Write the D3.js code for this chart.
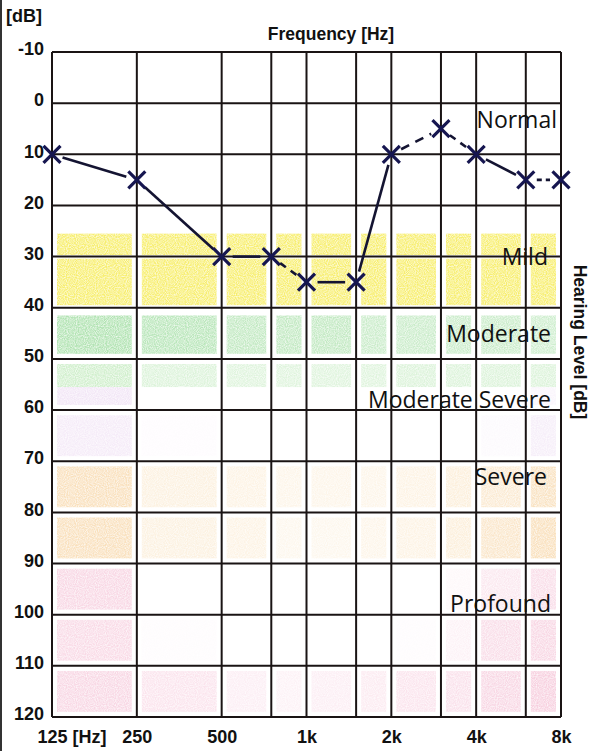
<!DOCTYPE html>
<html>
<head>
<meta charset="utf-8">
<script src="https://cdn.jsdelivr.net/npm/d3@7"></script>
<style>
  body { margin: 0; background: #fff; }
  svg { display: block; }
</style>
</head>
<body>
<svg id="chart"></svg>
<script>
// frequencies (Hz) of the vertical grid lines, and the ones that get a label
var freqs = [125, 250, 500, 750, 1000, 1500, 2000, 3000, 4000, 6000, 8000];
var freqLabels = [125, 250, 500, 1000, 2000, 4000, 8000];
var freqText = ["125 [Hz]", "250", "500", "1k", "2k", "4k", "8k"];
var dbTicks = [-10, 0, 10, 20, 30, 40, 50, 60, 70, 80, 90, 100, 110, 120];

// measured thresholds (right ear, X)
var thresholds = [10, 15, 30, 30, 35, 35, 10, 5, 10, 15, 15];
var segDash = ["", "", "", "7,6", "", "", "9,7", "7,6", "", "5,4"];

// shaded bands: top dB, bottom dB, colour group, strength per column
var bandTop = [25.5, 30.4, 41.5, 51, 55.5, 61, 71, 81, 91, 101, 111];
var bandBottom = [29.7, 39.5, 49, 55.5, 59, 69, 79, 89, 99, 109, 119];
var bandGroup = ["mild", "mild", "mod", "mod2", "pur", "pur", "sev", "sev", "pro", "pro", "pro"];
var bandAlpha = [
  [1, 1, 1, 1, 1, 1, 1, 1, 1, 1],
  [1, 1, 1, 1, 1, 1, 1, 1, 1, 1],
  [0.95, 0.85, 0.75, 0.75, 0.75, 0.65, 0.65, 0.65, 0.65, 0.6],
  [0.75, 0.55, 0.5, 0.5, 0.5, 0.5, 0.55, 0.55, 0.55, 0.55],
  [0.5, 0, 0, 0, 0, 0, 0, 0, 0, 0.2],
  [0.4, 0.05, 0, 0, 0, 0, 0, 0, 0.1, 0.35],
  [0.75, 0.35, 0.3, 0.25, 0.25, 0.25, 0.3, 0.4, 0.5, 0.7],
  [0.75, 0.35, 0.3, 0.2, 0.2, 0.25, 0.3, 0.4, 0.6, 0.75],
  [0.6, 0, 0, 0, 0, 0, 0, 0.1, 0.35, 0.5],
  [0.55, 0.05, 0, 0, 0, 0, 0.05, 0.2, 0.5, 0.6],
  [0.6, 0.4, 0.25, 0.2, 0.25, 0.3, 0.4, 0.45, 0.6, 0.7]
];

var zoneNames = ["Normal", "Mild", "Moderate", "Moderate Severe", "Severe", "Profound"];
var zoneDb = [4.9, 31.6, 46.7, 59.6, 74.6, 99.5];
var zoneRight = [557, 548, 551, 551, 547, 551];

var groupColor = { mild: "#f7ee6e", mod: "#ade2ae", mod2: "#c0eabb", pur: "#e6cdee", sev: "#f7d6a6", pro: "#f4bcd2" };

var W = 591, H = 751;
var margin = { top: 52, right: 30, bottom: 34, left: 52 };
var width = W - margin.left - margin.right,
    height = H - margin.top - margin.bottom;

var x = d3.scaleLog().base(2).domain([125, 8000]).range([0, width]);
var y = d3.scaleLinear().domain([-10, 120]).range([0, height]);

var svg = d3.select("#chart").attr("width", W).attr("height", H);

// scan edge on the left
svg.append("rect").attr("x", 0).attr("y", 0).attr("width", 2).attr("height", H).attr("fill", "#333");

var g = svg.append("g").attr("transform", "translate(" + margin.left + "," + margin.top + ")");

// speckle filter so the bands look printed
var defs = svg.append("defs");
var f = defs.append("filter").attr("id", "speck");
f.append("feTurbulence").attr("type", "fractalNoise").attr("baseFrequency", 0.9).attr("numOctaves", 1).attr("result", "n");
f.append("feColorMatrix").attr("in", "n").attr("type", "matrix")
  .attr("values", "0 0 0 0 0  0 0 0 0 0  0 0 0 0 0  0 0 0 -1.6 1.5").attr("result", "m");
f.append("feComposite").attr("in", "SourceGraphic").attr("in2", "m").attr("operator", "in");

var cells = [];
bandTop.forEach(function (t, r) {
  for (var c = 0; c < freqs.length - 1; c++) {
    if (bandAlpha[r][c] > 0) cells.push({ r: r, c: c });
  }
});
g.append("g").attr("filter", "url(#speck)").selectAll("rect").data(cells).enter().append("rect")
  .attr("x", function (d) { return x(freqs[d.c]) + 5; })
  .attr("width", function (d) { return x(freqs[d.c + 1]) - x(freqs[d.c]) - 10; })
  .attr("y", function (d) { return y(bandTop[d.r]); })
  .attr("height", function (d) { return y(bandBottom[d.r]) - y(bandTop[d.r]); })
  .attr("fill", function (d) { return groupColor[bandGroup[d.r]]; })
  .attr("fill-opacity", function (d) { return bandAlpha[d.r][d.c]; });

// grid
g.append("g").selectAll("line").data(dbTicks).enter().append("line")
  .attr("x1", 0).attr("x2", width)
  .attr("y1", function (d) { return y(d); }).attr("y2", function (d) { return y(d); })
  .attr("stroke", "#1a1414").attr("stroke-width", 2);
g.append("g").selectAll("line").data(freqs).enter().append("line")
  .attr("x1", function (d) { return x(d); }).attr("x2", function (d) { return x(d); })
  .attr("y1", 0).attr("y2", height)
  .attr("stroke", "#1a1414").attr("stroke-width", 2);

// zone names
g.append("g").selectAll("text").data(zoneNames).enter().append("text")
  .attr("x", function (d, i) { return zoneRight[i] - margin.left; })
  .attr("y", function (d, i) { return y(zoneDb[i]); })
  .attr("text-anchor", "end")
  .style("font-family", "'Open Sans', sans-serif")
  .style("font-size", "23px")
  .attr("fill", "#111")
  .text(function (d) { return d; });

// y axis labels
var yAxis = g.append("g").call(d3.axisLeft(y).tickValues(dbTicks).tickSize(0).tickPadding(8)
  .tickFormat(function (d) { return String(d); }));
yAxis.select(".domain").remove();
yAxis.selectAll("text")
  .attr("dy", "0.15em")
  .style("font-family", "'Liberation Sans', Arial, sans-serif")
  .style("font-weight", "bold")
  .style("font-size", "18px")
  .attr("fill", "#111");

// x axis labels
var xAxis = g.append("g").attr("transform", "translate(0," + height + ")")
  .call(d3.axisBottom(x).tickValues(freqLabels).tickSize(0).tickPadding(13)
    .tickFormat(function (d, i) { return freqText[i]; }));
xAxis.select(".domain").remove();
xAxis.selectAll("text")
  .style("font-family", "'Liberation Sans', Arial, sans-serif")
  .style("font-weight", "bold")
  .style("font-size", "18px")
  .attr("fill", "#111");
xAxis.selectAll(".tick").filter(function (d) { return d === 125; }).select("text")
  .attr("text-anchor", "start").attr("x", -15);

// titles
svg.append("text").attr("x", 6).attr("y", 22).text("[dB]")
  .style("font-family", "'Liberation Sans', Arial, sans-serif")
  .style("font-weight", "bold").style("font-size", "18px").attr("fill", "#111");
svg.append("text").attr("x", 331).attr("y", 40).attr("text-anchor", "middle").text("Frequency [Hz]")
  .style("font-family", "'Liberation Sans', Arial, sans-serif")
  .style("font-weight", "bold").style("font-size", "17.5px").attr("fill", "#111");
svg.append("text").attr("transform", "translate(574," + 342 + ") rotate(90)")
  .attr("text-anchor", "middle").text("Hearing Level [dB]")
  .style("font-family", "'Liberation Sans', Arial, sans-serif")
  .style("font-weight", "bold").style("font-size", "17.5px").attr("fill", "#111");

// threshold line, broken near each marker
var pts = freqs.map(function (f, i) { return [x(f), y(thresholds[i])]; });
var segs = [];
for (var i = 0; i < pts.length - 1; i++) {
  var a = pts[i], b = pts[i + 1];
  var dx = b[0] - a[0], dy = b[1] - a[1], len = Math.sqrt(dx * dx + dy * dy);
  var gap = 11;
  segs.push({
    x1: a[0] + dx / len * gap, y1: a[1] + dy / len * gap,
    x2: b[0] - dx / len * gap, y2: b[1] - dy / len * gap, dash: segDash[i]
  });
}
g.append("g").selectAll("line").data(segs).enter().append("line")
  .attr("x1", function (d) { return d.x1; }).attr("y1", function (d) { return d.y1; })
  .attr("x2", function (d) { return d.x2; }).attr("y2", function (d) { return d.y2; })
  .attr("stroke", "#141432").attr("stroke-width", 2.6)
  .attr("stroke-dasharray", function (d) { return d.dash || null; });

// X markers
var s = 8.5;
g.append("g").selectAll("path").data(pts).enter().append("path")
  .attr("d", function (d) {
    return "M" + (d[0] - s) + "," + (d[1] - s) + "L" + (d[0] + s) + "," + (d[1] + s) +
      "M" + (d[0] - s) + "," + (d[1] + s) + "L" + (d[0] + s) + "," + (d[1] - s);
  })
  .attr("stroke", "#161650").attr("stroke-width", 3.2).attr("fill", "none");
</script>
</body>
</html>
